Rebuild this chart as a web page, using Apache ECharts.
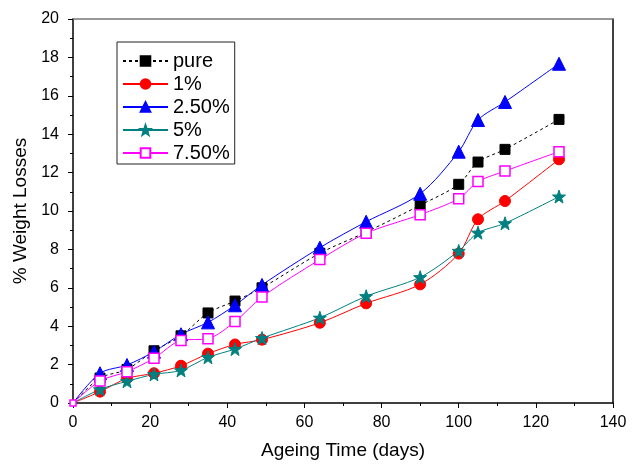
<!DOCTYPE html>
<html>
<head>
<meta charset="utf-8">
<script src="https://cdn.jsdelivr.net/npm/echarts@6/dist/echarts.min.js"></script>
<style>html,body{margin:0;padding:0;background:#fff}#c{width:638px;height:465px}</style>
</head>
<body>
<div id="c"></div>
<script>
const days = [0, 7, 14, 21, 28, 35, 42, 49, 64, 76, 90, 100, 105, 112, 126];
const pure = [0, 1.3, 1.75, 2.72, 3.5, 4.69, 5.31, 6.0, 7.8, 8.9, 10.3, 11.39, 12.55, 13.21, 14.77];
const p1 = [0, 0.59, 1.28, 1.55, 1.94, 2.57, 3.05, 3.3, 4.18, 5.19, 6.18, 7.78, 9.57, 10.52, 12.69];
const p25 = [0, 1.55, 1.98, 2.67, 3.58, 4.2, 5.09, 6.15, 8.09, 9.44, 10.9, 13.09, 14.74, 15.68, 17.67];
const p5 = [0, 0.71, 1.13, 1.49, 1.70, 2.38, 2.81, 3.38, 4.44, 5.56, 6.55, 7.92, 8.87, 9.36, 10.75];
const p75 = [0, 1.15, 1.63, 2.33, 3.26, 3.35, 4.24, 5.52, 7.47, 8.84, 9.81, 10.64, 11.53, 12.08, 13.09];
const names = ['pure', '1%', '2.50%', '5%', '7.50%'];

const font = 'Liberation Sans, Arial, sans-serif';
const pair = (arr, keepOrigin) => days.map((d, i) =>
  (d === 0 && !keepOrigin) ? { value: [d, arr[i]], symbol: 'none' } : (d === 0 ? { value: [d, arr[i]], symbolSize: 6 } : [d, arr[i]]));
function mk(name, data, color, symbol, size, opts, keepOrigin) {
  return Object.assign({
    name, type: 'line', data: pair(data, keepOrigin), smooth: 0.3,
    symbol, symbolSize: size,
    lineStyle: { color, width: 1 },
    itemStyle: { color, borderColor: color, borderWidth: 1 },
    emphasis: { disabled: true }
  }, opts || {});
}
const chart = echarts.init(document.getElementById('c'), null, { renderer: 'canvas' });
chart.setOption({
  animation: false,
  backgroundColor: '#fff',
  grid: { left: 73, right: 25, top: 19, bottom: 62 },
  legend: {
    left: 117, top: 42, orient: 'vertical',
    data: names,
    itemWidth: 45, itemHeight: 12, itemGap: 3,
    padding: [9, 5, 1, 5],
    borderColor: '#222', borderWidth: 1,
    textStyle: { fontFamily: font, fontSize: 20, color: '#000' }
  },
  xAxis: [{
    type: 'value', min: 0, max: 140, interval: 20,
    name: 'Ageing Time (days)', nameLocation: 'middle', nameGap: 38,
    nameTextStyle: { fontFamily: font, fontSize: 19, color: '#000' },
    axisLine: { lineStyle: { color: '#000', width: 1.5 } },
    axisTick: { inside: false, length: 5, lineStyle: { color: '#000' } },
    minorTick: { show: true, splitNumber: 2, length: 3, lineStyle: { color: '#000' } },
    axisLabel: { fontFamily: font, fontSize: 16, color: '#000', margin: 12 },
    splitLine: { show: false }
  }, {
    type: 'value', min: 0, max: 140, position: 'top',
    axisLine: { show: true, onZero: false, lineStyle: { color: '#777', width: 1.5 } },
    axisTick: { show: false }, axisLabel: { show: false }, splitLine: { show: false }
  }],
  yAxis: [{
    type: 'value', min: 0, max: 20, interval: 2,
    name: '% Weight Losses', nameLocation: 'middle', nameGap: 41,
    nameTextStyle: { fontFamily: font, fontSize: 19, color: '#000' },
    axisLine: { show: true, lineStyle: { color: '#000', width: 1.5 } },
    axisTick: { show: true, inside: false, length: 5, lineStyle: { color: '#000' } },
    minorTick: { show: true, splitNumber: 2, length: 3, lineStyle: { color: '#000' } },
    axisLabel: { fontFamily: font, fontSize: 16, color: '#000', margin: 14 },
    splitLine: { show: false }
  }, {
    type: 'value', min: 0, max: 20, position: 'right',
    axisLine: { show: true, onZero: false, lineStyle: { color: '#000', width: 1.5 } },
    axisTick: { show: false }, axisLabel: { show: false }, splitLine: { show: false }
  }],
  series: [
    mk('pure', pure, '#000000', 'rect', 10, { lineStyle: { color: '#000', width: 1, type: [3, 3] } }),
    mk('1%', p1, '#ff0000', 'circle', 11),
    mk('2.50%', p25, '#0000ff', 'triangle', 13),
    mk('5%', p5, '#008080', 'path://M0,-10 L2.35,-3.24 L9.51,-3.09 L3.8,1.24 L5.88,8.09 L0,4 L-5.88,8.09 L-3.8,1.24 L-9.51,-3.09 L-2.35,-3.24 Z', 13),
    mk('7.50%', p75, '#ff00ff', 'rect', 10, { itemStyle: { color: '#fff', borderColor: '#ff00ff', borderWidth: 1.5 } }, true)
  ]
});
</script>
</body>
</html>
